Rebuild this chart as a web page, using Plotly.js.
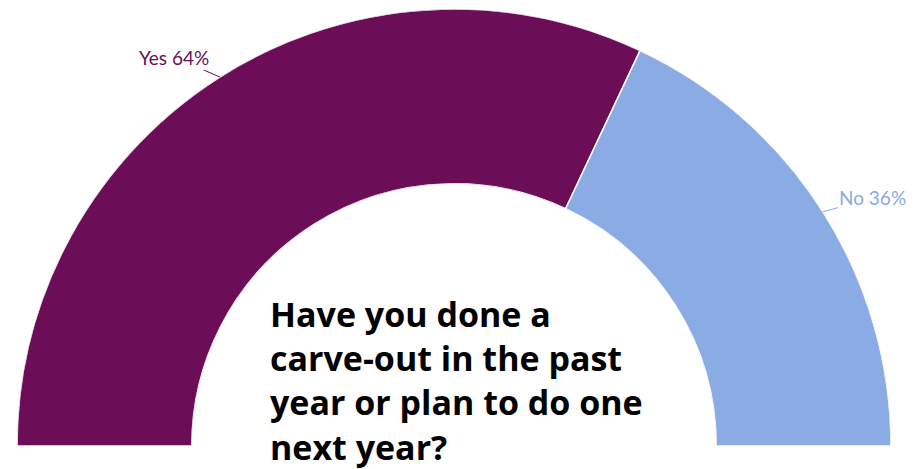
<!DOCTYPE html>
<html>
<head>
<meta charset="utf-8">
<script src="https://cdn.plot.ly/plotly-3.0.1.min.js"></script>
<style>html,body{margin:0;padding:0;background:#fff;}#chart{width:921px;height:469px;}</style>
</head>
<body>
<div id="chart"></div>
<script>
const categories = ['Yes', 'No'];
const values = [64, 36];
const colors = ['#6B0D57', '#8AABE3'];
const questionLines = ['Have you done a', 'carve-out in the past', 'year or plan to do one', 'next year?'];

const total = values.reduce((a, b) => a + b, 0);
const span = 180;
let cum = 0;
const traces = [];
const annotations = [];
const labelOffsets = [[-46, -20], [50, -14]];
categories.forEach((c, i) => {
  const w = values[i] / total * span;
  const mid = cum + w / 2;
  cum += w;
  traces.push({
    type: 'barpolar',
    r: [1],
    theta: [mid],
    width: [w],
    name: c,
    marker: {color: colors[i], line: {color: '#ffffff', width: 1.5}},
    hoverinfo: 'skip',
    showlegend: false
  });
  const a = (180 - mid) * Math.PI / 180;
  annotations.push({
    xref: 'paper', yref: 'paper',
    x: 0.5 + 0.5 * Math.cos(a), y: Math.sin(a),
    text: c + ' ' + values[i] + '%',
    showarrow: true, arrowhead: 0, arrowwidth: 1, arrowcolor: colors[i],
    ax: labelOffsets[i][0], ay: labelOffsets[i][1],
    font: {family: 'Lato', size: 19, color: colors[i]}
  });
});

annotations.push({
  xref: 'paper', yref: 'paper',
  x: 0.287, y: 0.36, xanchor: 'left', yanchor: 'top', align: 'left',
  text: questionLines.join('<br>'),
  showarrow: false,
  font: {family: 'Open Sans', size: 34, color: '#000000', weight: 700}
});

const layout = {
  width: 921, height: 469,
  margin: {l: 17, r: 30, t: 9, b: 23},
  paper_bgcolor: '#ffffff',
  showlegend: false,
  polar: {
    domain: {x: [0, 1], y: [0, 1]},
    sector: [0, 180],
    hole: 0.6,
    bgcolor: '#ffffff',
    bargap: 0,
    radialaxis: {visible: false, range: [0, 1], showgrid: false},
    angularaxis: {visible: false, direction: 'clockwise', rotation: 180, showgrid: false, thetaunit: 'degrees'}
  },
  annotations: annotations
};

Plotly.newPlot('chart', traces, layout, {displayModeBar: false, staticPlot: true});
</script>
</body>
</html>
